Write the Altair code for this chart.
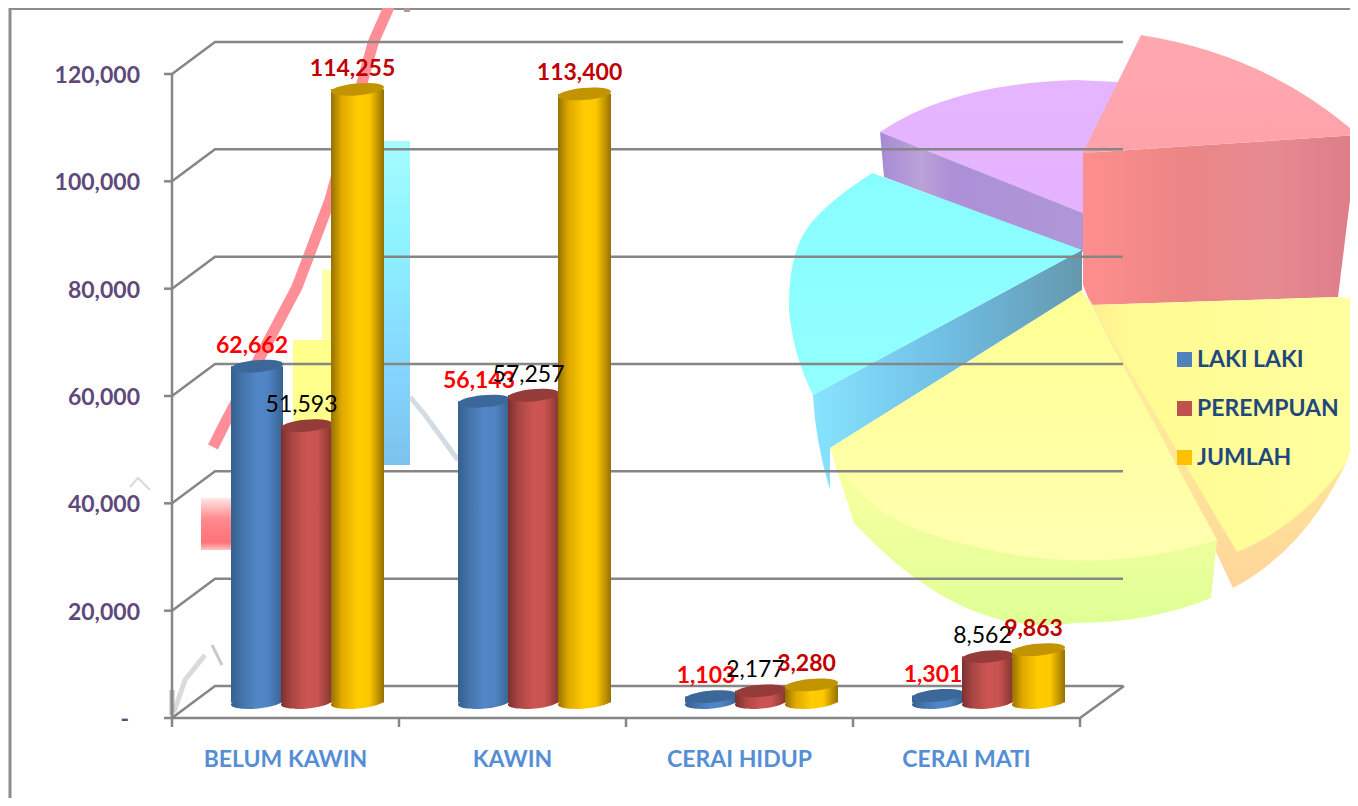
import altair as alt
import pandas as pd

categories = ["BELUM KAWIN", "KAWIN", "CERAI HIDUP", "CERAI MATI"]
laki = [62662, 56143, 1103, 1301]
perempuan = [51593, 57257, 2177, 8562]
jumlah = [114255, 113400, 3280, 9863]
series_names = ["LAKI LAKI", "PEREMPUAN", "JUMLAH"]
series_colors = ["#4F81BD", "#C0504D", "#FFC000"]
y_ticks = [0, 20000, 40000, 60000, 80000, 100000, 120000]
y_labels = ["-", "20,000", "40,000", "60,000", "80,000", "100,000", "120,000"]

FONT = "Lato"
W, H = 1342, 790
PX_PER_CAT = 227.0
PX_PER_VAL = 644.0 / 120000


def X(px):
    return (px - 172) / PX_PER_CAT


def Y(py):
    return (718 - py) / PX_PER_VAL


xs = alt.Scale(domain=[X(8), X(8 + W)], range=[0, W], nice=False, zero=False)
ys = alt.Scale(domain=[Y(8 + H), Y(8)], range=[H, 0], nice=False, zero=False)
ax = alt.X("x:Q", scale=xs, axis=None, title=None)
ay = alt.Y("y:Q", scale=ys, axis=None, title=None)
DX, DY = X(215), Y(686)


def hgrad(*stops):
    n = [alt.GradientStop(color=c, offset=o) for o, c in stops]
    return alt.Gradient(gradient="linear", stops=n, x1=0, x2=1, y1=0, y2=0)


def vgrad(*stops):
    n = [alt.GradientStop(color=c, offset=o) for o, c in stops]
    return alt.Gradient(gradient="linear", stops=n, x1=0, x2=0, y1=0, y2=1)


def polyline(points, color, width, opacity=1.0, cap="butt"):
    df = pd.DataFrame({"x": [X(p[0]) for p in points], "y": [Y(p[1]) for p in points], "o": list(range(len(points)))})
    return alt.Chart(df).mark_line(color=color, strokeWidth=width, opacity=opacity, strokeCap=cap, interpolate="linear").encode(
        x=ax, y=ay, order="o:Q")


def rect(x0, x1, y0, y1, fill, opacity=1.0):
    df = pd.DataFrame({"x": [X(x0)], "x2": [X(x1)], "y": [Y(y0)], "y2": [Y(y1)]})
    return alt.Chart(df).mark_rect(fill=fill, opacity=opacity).encode(x=ax, x2="x2:Q", y=ay, y2="y2:Q")


# --- pie illustration, outlines
PIE_CX, PIE_CY = 1082, 290


def path(seq):
    out = []
    for i, s in enumerate(seq):
        vals = [s[k] - (PIE_CX if k % 2 == 0 else PIE_CY) for k in range(len(s))]
        cmd = "M" if i == 0 else ("L" if len(s) == 2 else "Q")
        out.append(cmd + " ".join(f"{v:g}" for v in vals))
    return " ".join(out) + " Z"


pie_slices = [
    ([(880, 132), (950, 84, 1075, 80), (1118, 82), (1083, 213)], vgrad((0, "#E6B5FF"), (1, "#E4B2FF"))),
    ([(880, 132), (1083, 213), (1083, 252), (884, 177)],
     hgrad((0, "#A78AD6"), (0.2, "#BBA2D8"), (0.35, "#AD90D8"), (1, "#AF97D6"))),
    ([(1083, 153), (1358, 135), (1338, 297), (1091, 305), (1083, 285)],
     hgrad((0, "#FF8E8E"), (0.35, "#EC8585"), (0.7, "#E68A92"), (1, "#DC7C88"))),
    ([(1141, 35), (1268, 55, 1358, 135), (1083, 153)], vgrad((0, "#FFA8B0"), (1, "#FFA2AA"))),
    ([(813, 395), (1082, 250), (1082, 290), (830, 448), (830, 490), (815, 440, 813, 395)],
     hgrad((0, "#86E4FF"), (0.5, "#70BEE4"), (1, "#6498AE"))),
    ([(872, 173), (1082, 250), (813, 395), (793, 355, 789, 310), (788, 265, 802, 237), (815, 210, 872, 173)],
     vgrad((0, "#88FDFF"), (1, "#92FFFF"))),
    ([(1085, 293), (1215, 550), (1233, 588), (1305, 550, 1346, 463), (1237, 520)],
     vgrad((0, "#FFF09A"), (0.6, "#FFE59A"), (1, "#FFD49A"))),
    ([(1091, 305), (1338, 297), (1358, 300), (1358, 417), (1355, 440, 1346, 463), (1300, 526, 1237, 552)],
     hgrad((0, "#FFEE90"), (0.15, "#FFFB92"), (1, "#FFFF9E"))),
    ([(830, 448), (854, 523), (964, 641, 1075, 623), (1150, 623, 1211, 598), (1217, 540)],
     vgrad((0, "#FFFFA0"), (0.5, "#EDFF9C"), (1, "#DEFF96"))),
    ([(1082, 290), (830, 448), (857, 509, 927, 533), (1078, 584, 1217, 540)],
     vgrad((0, "#FFFF94"), (1, "#FFFFB0"))),
]
pie_df = pd.DataFrame({"x": [X(PIE_CX)], "y": [Y(PIE_CY)]})
pie_layers = [
    alt.Chart(pie_df).mark_point(shape=path(o), size=4, filled=True, fill=f, opacity=1, strokeWidth=0).encode(x=ax, y=ay)
    for o, f in pie_slices
]

# --- faint leftovers of a second picture behind the bars
ghost = [
    rect(360, 410, 141, 465, vgrad((0, "#A5FCFF"), (0.3, "#8EF3FF"), (0.7, "#84D6FF"), (1, "#7CC2EC"))),
    rect(322, 332, 270, 345, "#FFFFA6"),
    rect(293, 332, 340, 425, "#FFFF8C"),
    polyline([(213, 447), (225, 423), (297, 287), (330, 200), (373, 43), (392, 0)], "#FF8E96", 11),
    rect(404, 410, 8, 12, "#B49A8C"),
    rect(201, 231, 498, 550, vgrad((0, "#FFE8E4"), (0.4, "#FF8A8E"), (0.85, "#FF7278"), (1, "#FFC4C4"))),
    polyline([(410, 397), (425, 415), (458, 460)], "#BFCDD6", 5, 0.7),
    polyline([(174, 712), (185, 680), (205, 655)], "#C2C2C2", 5, 0.6),
    polyline([(172, 690), (172, 715)], "#9A9A9A", 5, 0.7),
    polyline([(212, 645), (222, 665)], "#BDBDBD", 3, 0.8),
    polyline([(130, 487), (138, 478), (150, 490)], "#D0D0D0", 2, 0.8),
]

# --- frame and 3-D walls
GRID = "#868686"
grid_rows = []
for v in y_ticks:
    grid_rows += [
        {"x": 0, "y": v, "g": v, "o": 0},
        {"x": DX, "y": v + DY, "g": v, "o": 1},
        {"x": 4 + DX, "y": v + DY, "g": v, "o": 2},
    ]
gridlines = alt.Chart(pd.DataFrame(grid_rows)).mark_line(color=GRID, strokeWidth=2.5).encode(
    x=ax, y=ay, detail="g:N", order="o:Q")

y_line = polyline([(172, 718), (172, 74)], GRID, 2.5)
y_tick_df = pd.DataFrame({"x": [X(164)] * 7, "x2": [0] * 7, "y": y_ticks})
y_tick_marks = alt.Chart(y_tick_df).mark_rule(color=GRID, strokeWidth=2.5).encode(x=ax, x2="x2:Q", y=ay)
y_lab_df = pd.DataFrame({"x": [X(129)] + [X(140)] * 6, "y": y_ticks, "t": y_labels})
y_lab_marks = alt.Chart(y_lab_df).mark_text(
    font=FONT, fontSize=23, fontWeight="bold", color="#5F497A", align="right", baseline="middle", dy=2
).encode(x=ax, y=ay, text="t:N")

floor = polyline([(172, 718), (1080, 718), (1124, 686)], GRID, 2.5)
x_ticks = alt.Chart(pd.DataFrame({"x": [0, 1, 2, 3, 4], "y": [0] * 5, "y2": [Y(727)] * 5})).mark_rule(
    color=GRID, strokeWidth=2.5).encode(x=ax, y=ay, y2="y2:Q")
frame = [polyline([(10, 806), (10, 8.5), (1358, 8.5)], "#8C8C8C", 3)]

# --- bars
rows = []
lefts = [59, 109, 159]
bar_px = [52, 51, 53]
for s, vals in enumerate([laki, perempuan, jumlah]):
    for i, v in enumerate(vals):
        x0 = i + lefts[s] / PX_PER_CAT
        x1 = x0 + bar_px[s] / PX_PER_CAT
        rows.append({"x": x0, "x2": x1, "xc": (x0 + x1) / 2, "y": v, "b": 0, "s": s})
bars_df = pd.DataFrame(rows)

bar_fill = [
    hgrad((0, "#35608F"), (0.2, "#4372A8"), (0.5, "#5186C8"), (0.72, "#4F83C2"), (1, "#36628F")),
    hgrad((0, "#7A302E"), (0.2, "#A84543"), (0.5, "#CC5552"), (0.72, "#C85350"), (1, "#84352F")),
    hgrad((0, "#967000"), (0.2, "#E0A900"), (0.5, "#FFCC00"), (0.72, "#FFC800"), (1, "#967000")),
]
cap_fill = ["#3B6899", "#953B39", "#C29400"]
OFF = -15.5


def ellipse(rx):
    return f"M{-rx} 2.5 A{rx} 6 -5 1 1 {rx} -2.5 A{rx} 6 -5 1 1 {-rx} 2.5 Z"


bar_layers = []
for s in range(3):
    d = bars_df[bars_df.s == s]
    rx = bar_px[s] / 2
    bar_layers.append(alt.Chart(d).mark_point(shape=ellipse(rx), size=4, filled=True, fill=bar_fill[s], opacity=1,
                                              strokeWidth=0, yOffset=OFF).encode(
        x=alt.X("xc:Q", scale=xs, axis=None, title=None), y=alt.Y("b:Q", scale=ys, axis=None, title=None)))
    bar_layers.append(alt.Chart(d).mark_bar(fill=bar_fill[s], yOffset=OFF, y2Offset=OFF).encode(
        x=ax, x2="x2:Q", y=ay, y2="b:Q"))
    bar_layers.append(alt.Chart(d).mark_point(shape=ellipse(rx), size=4, filled=True, fill=cap_fill[s], opacity=1,
                                              strokeWidth=0, yOffset=OFF).encode(
        x=alt.X("xc:Q", scale=xs, axis=None, title=None), y=ay))

# --- value labels
label_style = [("#FF0000", "bold"), ("#000000", "normal"), ("#C00000", "bold")]
label_layers = []
for s, (c, w) in enumerate(label_style):
    d = bars_df[bars_df.s == s]
    label_layers.append(alt.Chart(d).mark_text(font=FONT, fontSize=23, fontWeight=w, color=c, dx=-5, dy=-36,
                                               baseline="middle", align="center").encode(
        x=alt.X("xc:Q", scale=xs, axis=None, title=None), y=ay, text=alt.Text("y:Q", format=",")))

cat_df = pd.DataFrame({"x": [i + 0.5 for i in range(4)], "y": [Y(760)] * 4, "t": categories})
cat_labels = alt.Chart(cat_df).mark_text(font=FONT, fontSize=23, fontWeight="bold", color="#558ED5",
                                         baseline="middle", align="center").encode(x=ax, y=ay, text="t:N")

# --- legend
leg_df = pd.DataFrame({"x": [X(300)] * 3, "y": [50000] * 3, "s": series_names})
legend = alt.Chart(leg_df).mark_square(size=1, opacity=1).encode(
    x=ax, y=ay,
    color=alt.Color("s:N", scale=alt.Scale(domain=series_names, range=series_colors), legend=alt.Legend(
        title=None, orient="none", legendX=1165, legendY=340, symbolType="square", symbolSize=225, symbolStrokeWidth=0,
        labelFont=FONT, labelFontSize=23, labelFontWeight="bold", labelColor="#1F497D", labelOffset=1, rowPadding=25,
        labelLimit=300, zindex=1)))

layers = frame + ghost + pie_layers + [gridlines, y_line, y_tick_marks, y_lab_marks, floor, x_ticks, legend] + bar_layers + label_layers + [cat_labels]
chart = alt.layer(*layers).properties(
    width=W, height=H, padding=0, autosize=alt.AutoSizeParams(type="none"), background="white"
).configure_view(stroke=None)

chart.save("out.html", embed_options={"renderer": "svg", "actions": False})
